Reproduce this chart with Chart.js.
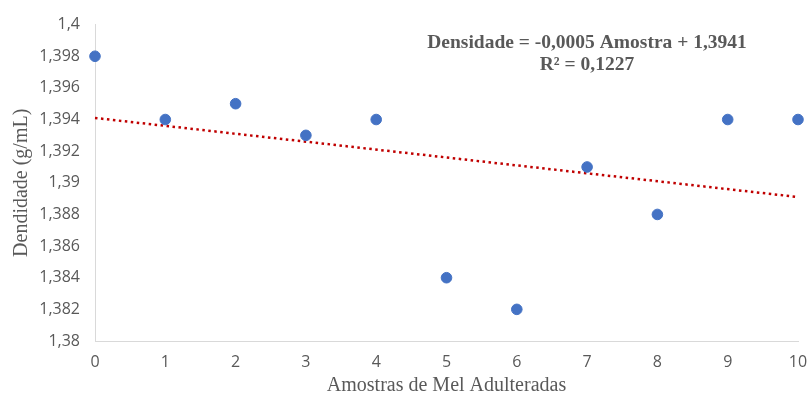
<!DOCTYPE html>
<html>
<head>
<meta charset="utf-8">
<script src="https://cdn.jsdelivr.net/npm/chart.js@4/dist/chart.umd.min.js"></script>
<style>
  html, body { margin: 0; padding: 0; background: #ffffff; }
  #wrap { position: relative; width: 807px; height: 399px; }
</style>
</head>
<body>
<div id="wrap"><canvas id="c" width="807" height="399"></canvas></div>
<script>
// Sample index and measured density of each adulterated honey sample
const amostras = [0, 1, 2, 3, 4, 5, 6, 7, 8, 9, 10];
const densidade = [1.398, 1.394, 1.395, 1.393, 1.394, 1.384, 1.382, 1.391, 1.388, 1.394, 1.394];

// Linear trend as stated in the equation label
const trendSlope = -0.0005;
const trendIntercept = 1.3941;
const trendR2 = 0.1227;
const trendRange = [0, 10];

// Axis ticks
const xTicks = [0, 1, 2, 3, 4, 5, 6, 7, 8, 9, 10];
const yTicks = [1.38, 1.382, 1.384, 1.386, 1.388, 1.39, 1.392, 1.394, 1.396, 1.398, 1.4];

const fmt = (v, d) => v.toFixed(d).replace('.', ',');
const fmtTick = v => String(Number(v.toFixed(3))).replace('.', ',');

const equationLines = [
  'Densidade = ' + fmt(trendSlope, 4) + ' Amostra + ' + fmt(trendIntercept, 4),
  'R² = ' + fmt(trendR2, 4)
];

const points = amostras.map((x, i) => ({ x: x, y: densidade[i] }));
const trendPoints = trendRange.map(x => ({ x: x, y: trendIntercept + trendSlope * x }));

const textGray = '#595959';
const serif = '"Liberation Serif", "Times New Roman", serif';

const equationPlugin = {
  id: 'equationLabel',
  afterDatasetsDraw(chart) {
    const ctx = chart.ctx;
    ctx.save();
    ctx.font = 'bold 19.5px ' + serif;
    ctx.fillStyle = textGray;
    ctx.textAlign = 'center';
    ctx.textBaseline = 'alphabetic';
    const cx = 587;
    ctx.fillText(equationLines[0], cx, 48);
    ctx.fillText(equationLines[1], cx, 70);
    ctx.restore();
  }
};

new Chart(document.getElementById('c'), {
  type: 'scatter',
  data: {
    datasets: [
      {
        label: 'Densidade',
        data: points,
        backgroundColor: '#4472C4',
        borderColor: '#4472C4',
        pointRadius: 5.3,
        pointHoverRadius: 5.3,
        clip: false,
        order: 1
      },
      {
        label: 'Linear (Densidade)',
        type: 'line',
        data: trendPoints,
        borderColor: '#C00000',
        borderWidth: 2.5,
        borderDash: [2.5, 3.5],
        pointRadius: 0,
        fill: false,
        clip: false,
        order: 2
      }
    ]
  },
  options: {
    responsive: false,
    animation: false,
    events: [],
    layout: { padding: { top: 23, right: 9, left: 0, bottom: 0 } },
    plugins: {
      legend: { display: false },
      tooltip: { enabled: false }
    },
    scales: {
      x: {
        type: 'linear',
        min: 0,
        max: 10,
        afterBuildTicks: s => { s.ticks = xTicks.map(v => ({ value: v })); },
        afterFit: s => { s.height = 58; s.paddingLeft = 0; s.paddingRight = 0; },
        grid: { display: false, drawTicks: false },
        border: { display: true, color: '#d9d9d9', width: 1 },
        ticks: {
          color: textGray,
          padding: 12,
          font: { family: '"Open Sans", sans-serif', size: 16 },
          maxRotation: 0
        },
        title: {
          display: true,
          text: 'Amostras de Mel Adulteradas',
          color: textGray,
          padding: { top: 0, bottom: 1 },
          font: { family: serif, size: 20 }
        }
      },
      y: {
        type: 'linear',
        min: 1.38,
        max: 1.4,
        afterBuildTicks: s => { s.ticks = yTicks.map(v => ({ value: v })); },
        afterFit: s => { s.width = 95; },
        grid: { display: false, drawTicks: false },
        border: { display: true, color: '#d9d9d9', width: 1 },
        ticks: {
          color: textGray,
          padding: 15,
          font: { family: '"Open Sans", sans-serif', size: 16 },
          callback: v => fmtTick(v)
        },
        title: {
          display: true,
          text: 'Dendidade (g/mL)',
          color: textGray,
          padding: { top: 10, bottom: 0 },
          font: { family: serif, size: 20 }
        }
      }
    }
  },
  plugins: [equationPlugin]
});
</script>
</body>
</html>
